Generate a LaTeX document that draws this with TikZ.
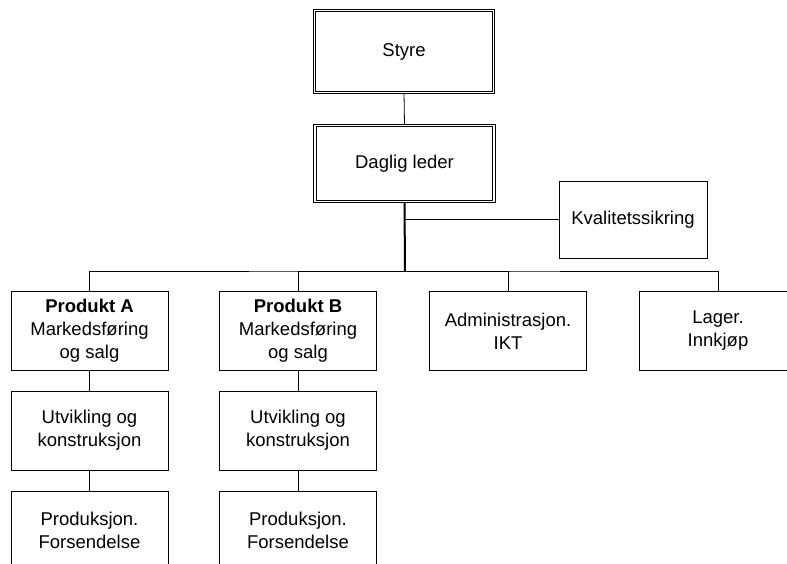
\documentclass[tikz,border=0pt]{standalone}
\usepackage{fontspec}
\setmainfont{Liberation Sans}
\begin{document}
\begin{tikzpicture}[x=1pt,y=-1pt,font=\fontsize{18.5}{23}\selectfont,
  unit/.style={draw, line width=0.8pt, align=center, inner sep=0pt, minimum width=157pt, minimum height=79pt},
  top/.style={draw, double, line width=0.8pt, double distance=1.6pt, align=center, inner sep=0pt, minimum width=179pt},
  link/.style={line width=0.8pt}]
\clip (0,0) rectangle (787,564);
\node[top, minimum height=81.8pt](styre) at (404,51.5) {Styre};
\node[top, minimum height=75.8pt](leder) at (404.5,163.5) {Daglig leder};
\node[unit, minimum width=148pt, minimum height=77pt](kval) at (633,219.5) {Kvalitetssikring};
\node[unit](prodA) at (89.5,330.5) {\textbf{Produkt A}\\Markedsføring\\og salg};
\node[unit](prodB) at (298,330.5) {\textbf{Produkt B}\\Markedsføring\\og salg};
\node[unit](admin) at (508,331) {Administrasjon.\\IKT};
\node[unit](lager) at (718,331) {Lager.\\Innkjøp};
\node[unit](utvA) at (89.5,430.5) {Utvikling og\\konstruksjon};
\node[unit](utvB) at (298,430.5) {Utvikling og\\konstruksjon};
\node[unit](prodsA) at (89.5,530.5) {Produksjon.\\Forsendelse};
\node[unit](prodsB) at (298,530.5) {Produksjon.\\Forsendelse};
\coordinate (bus) at (405,271);
%\draw (styre) -- (leder);
\draw[link] (styre.south) -- (leder.north);
\draw[link] (kval.west) -| (leder.south);
\draw[line width=2pt] (leder.south) -- (bus);
\draw[link] (prodA.north) |- (bus) -| (lager.north);
\draw[link] (prodB.north) |- (bus);
\draw[link] (admin.north) |- (bus);
\draw[link] (prodA) -- (utvA) -- (prodsA);
\draw[link] (prodB) -- (utvB) -- (prodsB);
\end{tikzpicture}
\end{document}
